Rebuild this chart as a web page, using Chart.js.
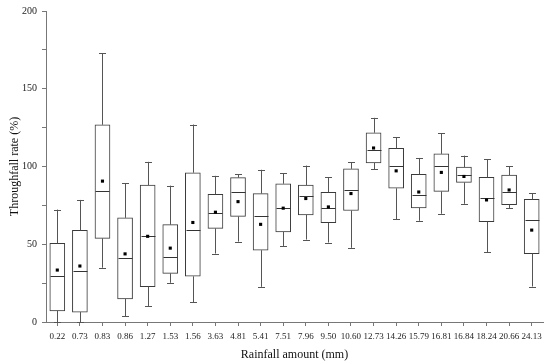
<!DOCTYPE html>
<html>
<head>
<meta charset="utf-8">
<script src="https://cdn.jsdelivr.net/npm/chart.js@4"></script>
<style>
  html, body { margin: 0; padding: 0; background: #fff; }
  #wrap { width: 550px; height: 363px; }
</style>
</head>
<body>
<div id="wrap"><canvas id="chart" width="550" height="363"></canvas></div>
<script>
// --- data ---
const rainfall = ['0.22', '0.73', '0.83', '0.86', '1.27', '1.53', '1.56', '3.63', '4.81', '5.41', '7.51',
    '7.96', '9.50', '10.60', '12.73', '14.26', '15.79', '16.81', '16.84', '18.24', '20.66', '24.13'];
const whiskerMin = [0, 0, 34.9, 3.8, 10.3, 25.2, 12.6, 44, 51.7, 22.6, 48.9,
    53, 51.1, 47.7, 98.1, 66.2, 65.1, 69.6, 76, 44.9, 73.2, 22.8];
const q1 = [7.2, 6.4, 53.8, 14.9, 22.8, 31.3, 29.4, 60.2, 67.9, 46.2, 57.9,
    68.9, 63.8, 71.7, 102.3, 86, 73.4, 84, 89.8, 64.5, 75.5, 44];
const median = [29.4, 33, 84.5, 40.9, 55.2, 41.9, 59.4, 70, 83.6, 67.9, 73.2,
    80.9, 73.2, 84.9, 110.6, 100.6, 81.7, 100.2, 94.7, 79.6, 83.6, 65.5];
const q3 = [50.6, 58.9, 126.8, 67, 88.1, 62.6, 96, 82.1, 92.8, 82.6, 88.9,
    88.1, 83.4, 98.5, 121.7, 111.7, 94.9, 108.1, 99.6, 93, 94.5, 78.9];
const whiskerMax = [72.3, 78.5, 172.8, 89.1, 103, 87.7, 127, 94, 94.9, 97.9, 95.7,
    100.6, 93.2, 102.6, 131.3, 118.7, 105.5, 121.3, 107, 104.7, 100.2, 82.8];
const means = [33.4, 36, 90.6, 43.8, 55.1, 47.5, 64, 70.6, 77.4, 62.8, 73.2,
    79.4, 74, 82.6, 111.9, 97.2, 83.6, 96.2, 93.6, 78.5, 84.9, 59.1];

const FONT = '"Liberation Serif", "Times New Roman", serif';

// whiskers + median lines, drawn right after the boxes
const boxExtras = {
    id: 'boxExtras',
    afterDatasetDraw(chart, args) {
        if (args.index !== 0) return;
        const ctx = chart.ctx;
        const x = chart.scales.x;
        const y = chart.scales.y;
        const cap = 3.5;
        const half = 7;
        ctx.save();
        ctx.lineWidth = 1;
        rainfall.forEach((label, i) => {
            const cx = Math.round(x.getPixelForValue(i)) + 0.5;
            const yMin = y.getPixelForValue(whiskerMin[i]);
            const yQ1 = y.getPixelForValue(q1[i]);
            const yQ3 = y.getPixelForValue(q3[i]);
            const yMax = y.getPixelForValue(whiskerMax[i]);
            const yMed = Math.round(y.getPixelForValue(median[i])) + 0.5;

            ctx.strokeStyle = '#555';
            ctx.beginPath();
            ctx.moveTo(cx, yQ3);
            ctx.lineTo(cx, yMax);
            ctx.moveTo(cx - cap, Math.round(yMax) + 0.5);
            ctx.lineTo(cx + cap, Math.round(yMax) + 0.5);
            ctx.moveTo(cx, yQ1);
            ctx.lineTo(cx, yMin);
            ctx.moveTo(cx - cap, Math.round(yMin) + 0.5);
            ctx.lineTo(cx + cap, Math.round(yMin) + 0.5);
            ctx.stroke();

            ctx.strokeStyle = '#333';
            ctx.beginPath();
            ctx.moveTo(cx - half, yMed);
            ctx.lineTo(cx + half, yMed);
            ctx.stroke();
        });
        ctx.restore();
    }
};

new Chart(document.getElementById('chart'), {
    type: 'bar',
    data: {
        labels: rainfall,
        datasets: [{
            label: 'IQR',
            data: q1.map((v, i) => [v, q3[i]]),
            backgroundColor: '#fff',
            borderColor: '#3a3a3a',
            borderWidth: 1,
            borderSkipped: false,
            barThickness: 15,
            order: 2
        }, {
            type: 'line',
            label: 'Mean',
            data: means,
            showLine: false,
            pointStyle: 'rect',
            pointRadius: 2.2,
            pointBackgroundColor: '#000',
            pointBorderWidth: 0,
            order: 1
        }]
    },
    options: {
        responsive: false,
        animation: false,
        layout: { padding: { top: 9, right: 7, left: 0, bottom: 0 } },
        plugins: {
            legend: { display: false },
            tooltip: { enabled: false }
        },
        scales: {
            x: {
                offset: true,
                afterFit: (s) => { s.height = 41; },
                grid: { display: true, drawOnChartArea: false, offset: false, tickLength: 4, color: '#777' },
                border: { color: '#777' },
                ticks: { color: '#222', font: { family: FONT, size: 9 }, padding: 5, maxRotation: 0, autoSkip: false },
                title: { display: true, text: 'Rainfall amount (mm)', color: '#111',
                    font: { family: FONT, size: 12 }, padding: { top: 0, bottom: 1 } }
            },
            y: {
                min: 0,
                max: 200,
                afterFit: (s) => { s.width = 46; },
                grid: { display: true, drawOnChartArea: false, tickLength: 4, color: '#777' },
                border: { color: '#777' },
                ticks: {
                    stepSize: 25,
                    color: '#222',
                    font: { family: FONT, size: 10 },
                    padding: 5,
                    callback: (v) => (v % 50 === 0 ? v : '')
                },
                title: { display: true, text: 'Throughfall rate (%)', color: '#111',
                    font: { family: FONT, size: 12 }, padding: { top: 8, bottom: 0 } }
            }
        }
    },
    plugins: [boxExtras]
});
</script>
</body>
</html>
